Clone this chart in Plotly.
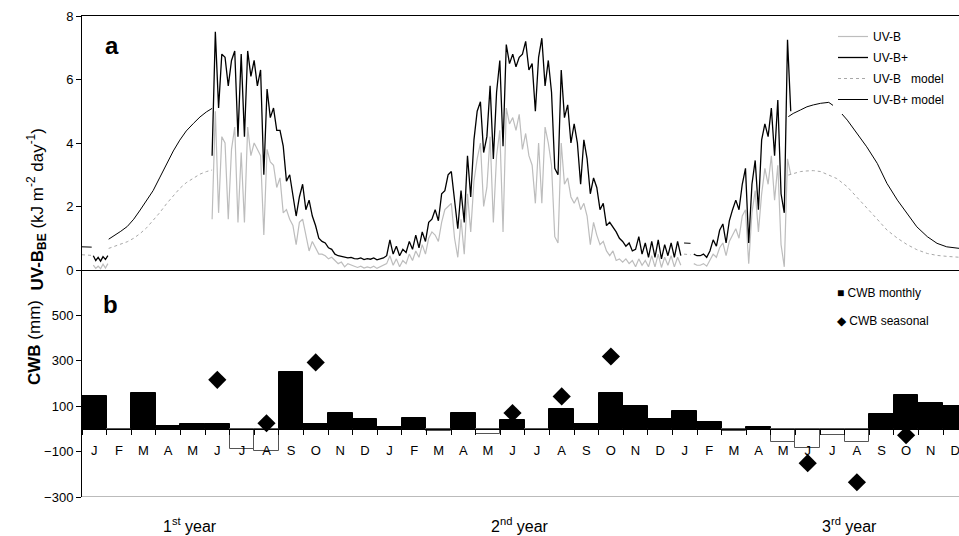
import plotly.graph_objects as go

FONT = "Arial, Liberation Sans, sans-serif"

# ---------------- panel a : daily UV-B_BE (kJ m-2 day-1) ----------------
# measured series, one value every 4 days starting at day 161 of year 1
meas_start_day = 161
meas_step_days = 4
uvb_plus_meas = [
    3.6, 7.5, 5.1, 6.8, 6.7, 5.8, 6.6, 6.9, 4.2, 6.8,
    4.2, 6.9, 6.1, 6.6, 5.8, 6.3, 3.0, 5.7, 4.8, 5.1,
    4.4, 4.4, 3.9, 2.8, 3.0, 2.3, 1.7, 2.3, 2.7, 1.9,
    2.2, 1.7, 1.4, 1.0, 0.9, 0.85, 0.7, 0.65, 0.5, 0.45,
    0.42, 0.4, 0.38, 0.4, 0.36, 0.35, 0.38, 0.33, 0.36, 0.34,
    0.38, 0.32, 0.36, 0.38, 0.45, 0.95, 0.5, 0.75, 0.45, 0.65,
    0.55, 0.9, 0.65, 1.1, 0.7, 1.2, 0.9, 1.5, 1.6, 1.9,
    1.55, 2.4, 2.5, 3.0, 3.1, 2.2, 1.3, 2.5, 1.5, 3.6,
    2.3, 4.1, 5.0, 5.3, 3.7, 4.2, 5.8, 3.5, 5.6, 6.6,
    3.9, 7.1, 6.5, 6.8, 6.4, 6.7, 6.8, 7.2, 6.3, 6.5,
    5.0, 6.7, 7.3, 5.8, 6.6, 5.6, 3.2, 3.0, 6.3, 4.8,
    5.2, 4.0, 4.6, 4.0, 2.7, 4.1, 3.5, 2.4, 2.9, 2.6,
    1.9, 2.1, 1.4, 1.5, 1.35, 1.2, 1.0, 0.9, 0.75, 0.85,
    0.6, 0.65, 1.05, 0.5, 0.85, 0.4, 0.9, 0.4, 0.95, 0.35,
    0.8, 0.45, 0.85, 0.4, 0.9, 0.45, None, None, None, 0.5,
    0.45, 0.45, 0.5, 0.4, 0.6, 0.95, 0.75, 1.25, 1.45, 0.85,
    1.55, 1.9, 2.2, 1.9, 2.7, 3.2, 0.85, 2.7, 3.45, 1.9,
    4.1, 4.6, 4.2, 5.1, 3.6, 5.35, 2.4, 1.8, 7.25, 5.0,
]
uvb_meas = [
    1.6, 5.0, 1.8, 4.2, 4.0, 1.6, 3.8, 4.5, 1.5, 3.7,
    1.5, 4.5, 3.6, 4.0, 3.8, 3.6, 1.1, 3.8, 3.4, 3.3,
    2.6, 2.9, 1.8, 1.9, 1.6, 1.4, 0.8, 1.5, 1.6, 1.1,
    0.6, 0.9, 0.7, 0.5, 0.5, 0.45, 0.35, 0.4, 0.3, 0.2,
    0.25, 0.1, 0.2, 0.15, 0.12, 0.08, 0.12, 0.06, 0.1, 0.07,
    0.12, 0.05, 0.1, 0.15, 0.2, 0.45, 0.15, 0.35, 0.1, 0.3,
    0.2, 0.5, 0.3, 0.6, 0.4, 0.8, 0.5, 1.0, 1.2, 1.1,
    0.9, 1.5, 1.9, 2.0, 2.1, 1.0, 0.4, 1.6, 0.5, 2.4,
    1.2, 2.8, 3.5, 4.0, 2.0, 2.6, 4.2, 1.5, 3.6, 4.4,
    1.2, 5.1, 4.6, 4.8, 4.4, 4.9, 3.8, 4.3, 3.6, 3.3,
    2.1, 4.0, 2.1, 4.5, 4.0, 3.3, 1.05, 0.85, 4.0, 2.7,
    2.9, 2.3, 2.1, 2.3, 1.9, 2.1, 1.7, 0.8, 1.5, 1.1,
    0.8, 0.9, 0.6, 0.45, 0.6, 0.3, 0.35, 0.25, 0.35, 0.2,
    0.3, 0.1, 0.35, 0.15, 0.3, 0.1, 0.45, 0.1, 0.5, 0.08,
    0.4, 0.15, 0.45, 0.1, 0.4, 0.15, None, None, None, 0.2,
    0.15, 0.15, 0.2, 0.12, 0.3, 0.5, 0.4, 0.7, 0.85, 0.45,
    0.9, 1.1, 1.3, 1.0, 1.7, 1.9, 0.2, 1.8, 2.5, 1.2,
    2.4, 3.2, 2.7, 3.6, 2.2, 3.3, 0.8, 0.1, 3.5, 3.0,
]
# short measured stretch in January of year 1
early_days = [14, 17, 20, 23, 26, 29, 32]
uvb_plus_early = [0.45, 0.3, 0.4, 0.28, 0.42, 0.33, 0.45]
uvb_early = [0.15, 0.05, 0.12, 0.04, 0.18, 0.06, 0.2]

# modelled values (fill the gaps of the measurements)
model_days = [0, 4, 8, 12, None,
              33, 40, 48, 56, 64, 72, 80, 88, 96, 105, 113, 121, 129, 138, 146, 154, 161, None,
              745, 749, 753, None,
              874, 880, 889, 897, 905, 914, 924, 934, 947, 959, 971, 984, 996, 1009, 1021,
              1033, 1046, 1058, 1070, 1086]
uvb_plus_model = [0.73, 0.73, 0.72, 0.72, None,
                  0.97, 1.08, 1.22, 1.37, 1.6, 1.89, 2.2, 2.5, 2.9, 3.36, 3.75, 4.09, 4.38, 4.62, 4.82, 4.98, 5.09, None,
                  0.85, 0.84, 0.84, None,
                  4.83, 4.93, 5.04, 5.14, 5.2, 5.25, 5.28, 5.1, 4.72, 4.3, 3.88, 3.36, 2.73, 2.2, 1.78,
                  1.36, 1.05, 0.84, 0.73, 0.68]
uvb_model = [0.48, 0.47, 0.47, 0.46, None,
             0.68, 0.74, 0.8, 0.89, 1.0, 1.15, 1.33, 1.55, 1.8, 2.1, 2.35, 2.57, 2.75, 2.9, 3.02, 3.1, 3.15, None,
             0.5, 0.49, 0.48, None,
             2.99, 3.04, 3.1, 3.12, 3.13, 3.1, 3.0, 2.88, 2.62, 2.3, 1.97, 1.6, 1.26, 1.0, 0.8,
             0.64, 0.52, 0.46, 0.43, 0.4]

# ---------------- panel b : climatic water balance (mm) ----------------
month_labels = ['J', 'F', 'M', 'A', 'M', 'J', 'J', 'A', 'S', 'O', 'N', 'D'] * 3
cwb_monthly = [145, -6, 160, 15, 20, 20, -90, -98, 250, 20, 68, 42,
               10, 48, -8, 68, -22, 39, -3, 86, 23, 157, 101, 45,
               77, 32, -9, 10, -58, -83, -25, -58, 65, 148, 114, 101]
seasonal_month_idx = [5, 7, 9, 17, 19, 21, 29, 31, 33]
cwb_seasonal = [216, 25, 293, 70, 143, 319, -151, -235, -28]
year_labels = ['1<sup>st</sup> year', '2<sup>nd</sup> year', '3<sup>rd</sup> year']
year_label_pos = [4.4, 17.8, 31.2]

# ---------------- build figure ----------------
DPM = 30.44  # days per month


def to_month(days):
    return [None if d is None else d / DPM for d in days]


meas_days = [meas_start_day + meas_step_days * i for i in range(len(uvb_plus_meas))]
x_meas = to_month(early_days) + [None] + to_month(meas_days)
y_plus = uvb_plus_early + [None] + uvb_plus_meas
y_uvb = uvb_early + [None] + uvb_meas
x_model = to_month(model_days)

XMAX = 877 / 24.6
Y_SPLIT = 227 / 481
ZERO_POS = Y_SPLIT * 300 / 1000

fig = go.Figure()
fig.add_trace(go.Scatter(x=x_meas, y=y_uvb, mode='lines', name='UV-B', legendgroup='g1',
                         line=dict(color='#bdbdbd', width=1.2), xaxis='x', yaxis='y'))
fig.add_trace(go.Scatter(x=x_meas, y=y_plus, mode='lines', name='UV-B+', legendgroup='g2',
                         line=dict(color='black', width=1.3), xaxis='x', yaxis='y'))
fig.add_trace(go.Scatter(x=x_model, y=uvb_model, mode='lines', name='UV-B   model', legendgroup='g3',
                         line=dict(color='#a8a8a8', width=1, dash='dot'), xaxis='x', yaxis='y'))
fig.add_trace(go.Scatter(x=x_model, y=uvb_plus_model, mode='lines', name='UV-B+ model', legendgroup='g4',
                         line=dict(color='black', width=1), xaxis='x', yaxis='y'))

bar_x = [k + 0.5 for k in range(len(cwb_monthly))]
bar_fill = ['black' if v > 0 else 'white' for v in cwb_monthly]
bar_edge = ['black' if v > 0 else '#555555' for v in cwb_monthly]
fig.add_trace(go.Bar(x=bar_x, y=cwb_monthly, width=1, name='CWB monthly',
                     marker=dict(color=bar_fill, line=dict(color=bar_edge, width=1)),
                     xaxis='x2', yaxis='y2', showlegend=False))
fig.add_trace(go.Scatter(x=[k + 0.5 for k in seasonal_month_idx], y=cwb_seasonal, mode='markers',
                         name='CWB seasonal', marker=dict(symbol='diamond', size=14, color='black'),
                         xaxis='x2', yaxis='y2', showlegend=False))

annotations = [
    dict(text='<b>a</b>', x=1.23, y=7.06, xref='x', yref='y', showarrow=False,
         font=dict(size=24, family=FONT)),
    dict(text='<b>b</b>', x=1.15, y=548, xref='x2', yref='y2', showarrow=False,
         font=dict(size=24, family=FONT)),
    dict(text='<b>UV-B<sub>BE</sub></b> (kJ m<sup>-2</sup> day<sup>-1</sup>)', textangle=-90,
         x=(22 - 82) / 877, y=(497 - 127) / 481, xref='paper', yref='paper', showarrow=False,
         font=dict(size=17, family=FONT)),
    dict(text='<b>CWB</b> (mm)', textangle=-90,
         x=(23 - 82) / 877, y=(497 - 387) / 481, xref='paper', yref='paper', showarrow=False,
         font=dict(size=17, family=FONT)),
    dict(text='■ CWB monthly', x=(835 - 82) / 877, y=(497 - 293) / 481, xref='paper', yref='paper',
         xanchor='left', showarrow=False, font=dict(size=12, family=FONT)),
    dict(text='◆ CWB seasonal', x=(835 - 82) / 877, y=(497 - 321) / 481, xref='paper', yref='paper',
         xanchor='left', showarrow=False, font=dict(size=12, family=FONT)),
]
for lab, pos in zip(year_labels, year_label_pos):
    annotations.append(dict(text=lab, x=pos, y=(497 - 537) / 481, xref='x2', yref='paper',
                            showarrow=False, font=dict(size=16, family=FONT)))

fig.update_layout(
    width=959, height=536,
    margin=dict(l=82, r=0, t=16, b=39, autoexpand=False),
    paper_bgcolor='white', plot_bgcolor='white',
    font=dict(family=FONT, size=13, color='black'),
    bargap=0,
    legend=dict(x=(833 - 82) / 877, y=(497 - 22) / 481, xanchor='left', yanchor='top',
                bgcolor='white', borderwidth=0, font=dict(size=12, family=FONT),
                tracegroupgap=2),
    xaxis=dict(domain=[0, 1], anchor='y', range=[0, XMAX], showline=True, mirror=True,
               linecolor='black', linewidth=1, ticks='', showticklabels=False,
               showgrid=False, zeroline=False, automargin=False),
    yaxis=dict(domain=[Y_SPLIT, 1], anchor='x', range=[0, 8], tickvals=[0, 2, 4, 6, 8],
               ticks='outside', ticklen=5, tickcolor='black', showline=True, linecolor='black',
               showgrid=False, zeroline=False, automargin=False),
    xaxis2=dict(domain=[0, 1], anchor='free', position=ZERO_POS, range=[0, XMAX],
                tickmode='array', tickvals=bar_x, ticktext=month_labels, ticks='',
                showline=True, linecolor='black', linewidth=1, showgrid=False, zeroline=False,
                ticklabelstandoff=9, ticklabeloverflow='allow', automargin=False,
                minor=dict(tickmode='array', tickvals=list(range(36)), ticks='outside',
                           ticklen=5, tickcolor='black', showgrid=False)),
    yaxis2=dict(domain=[0, Y_SPLIT], anchor='x2', range=[-300, 700],
                tickvals=[-300, -100, 100, 300, 500], ticks='outside', ticklen=5,
                tickcolor='black', showline=True, linecolor='black', showgrid=False,
                zeroline=False, automargin=False),
    shapes=[dict(type='line', xref='x2 domain', x0=0, x1=1, yref='y2', y0=-300, y1=-300,
                 line=dict(color='#777777', width=1))],
    annotations=annotations,
)

fig.write_html("out.html", config={'displayModeBar': False},
               post_script="document.body.style.margin='0';document.body.style.overflow='hidden';")
